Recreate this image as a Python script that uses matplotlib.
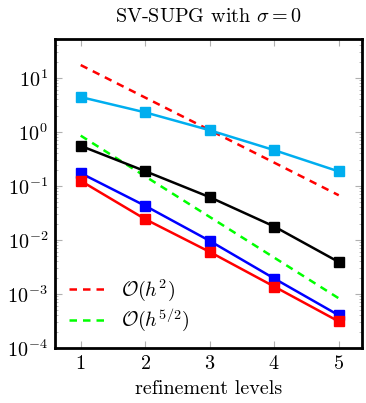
import numpy as np
import matplotlib.pyplot as plt

plt.rcParams['font.family'] = 'serif'
plt.rcParams['font.serif'] = ['cmr10', 'DejaVu Serif']
plt.rcParams['mathtext.fontset'] = 'cm'
plt.rcParams['axes.formatter.use_mathtext'] = True

# refinement levels and errors
levels = [1, 2, 3, 4, 5]
err_cyan = [4.4, 2.29, 1.07, 0.458, 0.185]
err_black = [0.55, 0.187, 0.0618, 0.0177, 0.0039]
err_blue = [0.172, 0.0427, 0.0096, 0.00193, 0.000403]
err_red = [0.124, 0.0242, 0.0060, 0.00137, 0.00031]

# reference slopes
ref_h2 = [17.2, 4.3, 1.075, 0.269, 0.067]
ref_h52 = [0.85, 0.150, 0.0266, 0.0047, 0.00083]

fs = 14.5

fig = plt.figure(figsize=(3.66, 4.03), dpi=100)
ax = fig.add_axes([0.150, 0.1365, 0.839, 0.7665])

dash = (0, (3.0, 2.4))
ax.plot(levels, ref_h2, color='#ff0000', lw=1.8, linestyle=dash,
        label=r'$\mathcal{O}(h^2)$', zorder=2)
ax.plot(levels, ref_h52, color='#00ff00', lw=1.8, linestyle=dash,
        label=r'$\mathcal{O}(h^{5/2})$', zorder=2)

# error curves
for err, c in [(err_cyan, '#00aeef'), (err_black, 'black'),
               (err_blue, '#0000ff'), (err_red, '#ff0000')]:
    ax.plot(levels, err, color=c, lw=1.8, marker='s', markersize=7.5,
            zorder=3)

ax.set_yscale('log')
ax.set_xlim(0.6, 5.36)
ax.set_ylim(1e-4, 52)
ax.set_xticks(levels)
ax.set_yticks([1e-4, 1e-3, 1e-2, 1e-1, 1e0, 1e1])

ax.tick_params(which='both', direction='in', top=True, right=True,
               color='#b0b0b0', labelsize=fs)
ax.tick_params(which='major', length=5, width=0.8, pad=5)
ax.tick_params(which='minor', length=2.5, width=0.6)
ax.tick_params(axis='x', which='minor', bottom=False, top=False)
for s in ax.spines.values():
    s.set_linewidth(2)

ax.set_xlabel('refinement levels', fontsize=fs, labelpad=5)
ax.set_title(r'SV-SUPG with $\sigma=0$', fontsize=fs, pad=12)

ax.legend(loc='lower left', frameon=False, fontsize=fs,
          handlelength=2.0, handletextpad=0.6, labelspacing=0.2,
          borderaxespad=0.3)

fig.savefig('out.png', dpi=100)
plt.close()
